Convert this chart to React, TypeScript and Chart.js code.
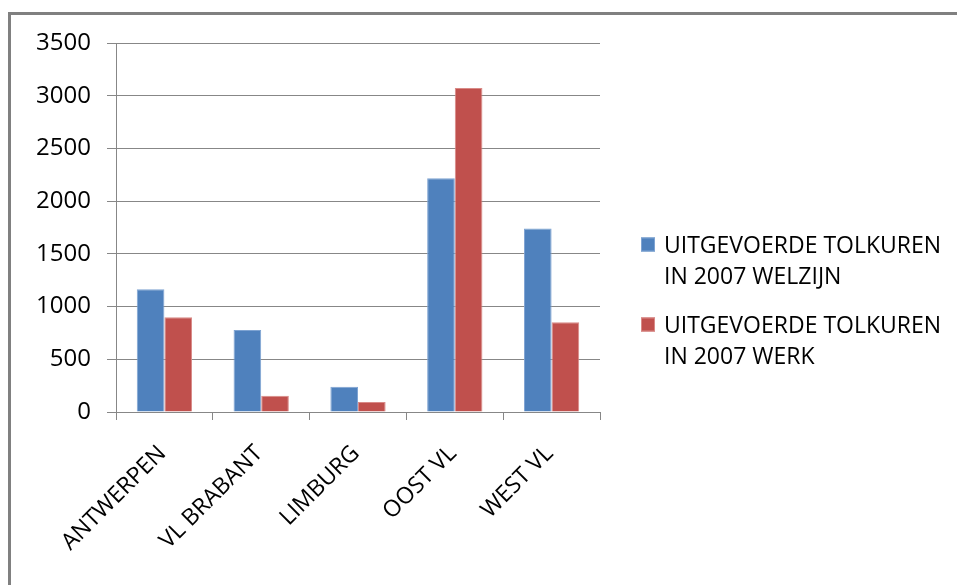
import React, { useEffect, useRef } from "react";
import { Chart, registerables } from "chart.js";

Chart.register(...registerables);

// Interpreted hours per province, 2007
const categories = ["ANTWERPEN", "VL BRABANT", "LIMBURG", "OOST VL", "WEST VL"];
const welzijnHours = [1165, 778, 240, 2218, 1740];
const werkHours = [898, 155, 95, 3072, 851];
const seriesNames = [
  ["UITGEVOERDE TOLKUREN", "IN 2007 WELZIJN"],
  ["UITGEVOERDE TOLKUREN", "IN 2007 WERK"],
];
const seriesColors = ["#4F81BD", "#C0504D"];
const seriesEdges = ["#7EA3D2", "#D98A87"];
const yMin = 0;
const yMax = 3500;
const yStep = 500;

const FONT = "'Open Sans', sans-serif";
const GRID = "#878787";

// Legend drawn to the right of the plot, with two-line entries
const sideLegend = {
  id: "sideLegend",
  afterDraw(chart: any) {
    const ctx = chart.ctx as CanvasRenderingContext2D;
    const area = chart.chartArea;
    const boxX = area.right + 41;
    const textX = boxX + 23;
    const firstCenter = area.top + 201.5;
    const lineGap = 31.5;
    const itemGap = 80;
    ctx.save();
    ctx.font = `23px ${FONT}`;
    ctx.textAlign = "left";
    ctx.textBaseline = "alphabetic";
    chart.data.datasets.forEach((ds: any, i: number) => {
      const yc = firstCenter + i * itemGap;
      ctx.fillStyle = ds.backgroundColor;
      ctx.fillRect(boxX, yc - 7, 14, 14);
      ctx.strokeStyle = ds.borderColor;
      ctx.lineWidth = 1;
      ctx.strokeRect(boxX + 0.5, yc - 6.5, 13, 13);
      ctx.fillStyle = "#000";
      const lines: string[] = Array.isArray(ds.label) ? ds.label : [ds.label];
      lines.forEach((line, j) => {
        ctx.fillText(line, textX, yc + j * lineGap + 8);
      });
    });
    ctx.restore();
  },
};

export default function App() {
  const canvasRef = useRef<HTMLCanvasElement | null>(null);

  useEffect(() => {
    const canvas = canvasRef.current;
    if (!canvas) return;
    const chart = new Chart(canvas, {
      type: "bar",
      data: {
        labels: categories,
        datasets: [
          {
            label: seriesNames[0] as any,
            data: welzijnHours,
            backgroundColor: seriesColors[0],
            borderColor: seriesEdges[0],
            borderWidth: 1,
          },
          {
            label: seriesNames[1] as any,
            data: werkHours,
            backgroundColor: seriesColors[1],
            borderColor: seriesEdges[1],
            borderWidth: 1,
          },
        ],
      },
      options: {
        responsive: false,
        animation: false,
        devicePixelRatio: 1,
        layout: { padding: { left: 0, top: 43, right: 357, bottom: 0 } },
        datasets: {
          bar: { categoryPercentage: 0.571, barPercentage: 1 },
        },
        plugins: {
          legend: { display: false },
          tooltip: { enabled: false },
        },
        scales: {
          x: {
            grid: {
              display: true,
              drawOnChartArea: false,
              drawTicks: true,
              tickLength: 8,
              color: GRID,
              lineWidth: 1,
            },
            border: { display: true, color: GRID, width: 1 },
            ticks: {
              minRotation: 45,
              maxRotation: 45,
              autoSkip: false,
              padding: 20,
              labelOffset: -2,
              color: "#000",
              font: { family: FONT, size: 23 },
            },
            afterFit(scale: any) {
              scale.height = 173;
            },
          },
          y: {
            min: yMin,
            max: yMax,
            grid: {
              display: true,
              drawOnChartArea: true,
              drawTicks: true,
              tickLength: 9,
              color: GRID,
              lineWidth: 1,
            },
            border: { display: true, color: GRID, width: 1 },
            ticks: {
              stepSize: yStep,
              padding: 16,
              color: "#000",
              font: { family: FONT, size: 24 },
              callback: (value: any) => String(value),
            },
            afterFit(scale: any) {
              scale.width = 116;
            },
          },
        },
      },
      plugins: [sideLegend],
    });
    return () => chart.destroy();
  }, []);

  return (
    <div
      style={{
        position: "fixed",
        left: 0,
        top: 0,
        width: 957,
        height: 585,
        overflow: "hidden",
        background: "#fff",
      }}
    >
      <div
        style={{
          position: "absolute",
          left: 8,
          top: 12,
          width: 1000,
          height: 700,
          borderTop: "3px solid #808080",
          borderLeft: "3px solid #808080",
          boxSizing: "border-box",
        }}
      />
      <canvas
        ref={canvasRef}
        width={957}
        height={585}
        style={{ position: "absolute", left: 0, top: 0, width: 957, height: 585 }}
      />
    </div>
  );
}
